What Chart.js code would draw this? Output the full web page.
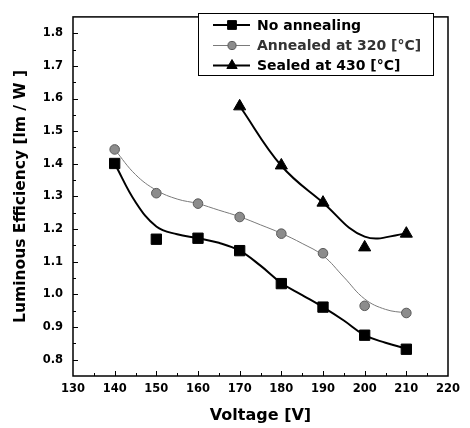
<!DOCTYPE html>
<html><head><meta charset="utf-8">
<script src="https://cdn.jsdelivr.net/npm/chart.js@4/dist/chart.umd.min.js"></script>
<style>html,body{margin:0;padding:0;background:#fff}#wrap{width:470px;height:428px}</style>
</head><body><div id="wrap"><canvas id="c" width="470" height="428"></canvas></div>
<script>
// Measured points
const voltages = [140, 150, 160, 170, 180, 190, 200, 210];
const noAnnealing = [1.401, 1.169, 1.172, 1.134, 1.033, 0.961, 0.875, 0.832];
const annealed320 = [1.444, 1.310, 1.278, 1.237, 1.186, 1.126, 0.965, 0.943];
const sealedVoltages = [170, 180, 190, 200, 210];
const sealed430 = [1.576, 1.395, 1.281, 1.144, 1.186];
// Fitted curves
const curveVoltages = [140, 145, 150, 155, 160, 165, 170, 175, 180, 185, 190, 195, 200, 205, 210];
const noAnnealingCurve = [1.401, 1.283, 1.208, 1.184, 1.172, 1.158, 1.134, 1.088, 1.035, 0.998, 0.961, 0.920, 0.875, 0.852, 0.834];
const annealedCurve = [1.444, 1.367, 1.319, 1.292, 1.278, 1.258, 1.238, 1.213, 1.187, 1.156, 1.119, 1.053, 0.986, 0.954, 0.943];
const sealedCurveVoltages = [170, 180, 190, 200, 210];
const sealedCurve = [1.577, 1.394, 1.281, 1.177, 1.186];
// Axes
const xTicks = [130, 140, 150, 160, 170, 180, 190, 200, 210, 220];
const yTicks = [0.8, 0.9, 1.0, 1.1, 1.2, 1.3, 1.4, 1.5, 1.6, 1.7, 1.8];
const seriesNames = ['No annealing', 'Annealed at 320 [\u00B0C]', 'Sealed at 430 [\u00B0C]'];

const pts = (xs, ys) => xs.map((x, i) => ({x: x, y: ys[i]}));
const FONT = "'DejaVu Sans', Verdana, sans-serif";

const styles = [
  {pointStyle: 'rect', radius: 7.3, bg: '#000', border: '#000', bw: 1, line: '#000', lw: 2},
  {pointStyle: 'circle', radius: 4.8, bg: '#8c8c8c', border: '#5a5a5a', bw: 1, line: '#7a7a7a', lw: 1},
  {pointStyle: 'triangle', radius: 7, bg: '#000', border: '#000', bw: 1, line: '#000', lw: 2}
];

function markerDs(data, s) {
  return {data: data, showLine: false, pointStyle: s.pointStyle, pointRadius: s.radius,
    pointBackgroundColor: s.bg, pointBorderColor: s.border, pointBorderWidth: s.bw};
}
function curveDs(data, s) {
  return {data: data, showLine: true, pointRadius: 0, borderColor: s.line, borderWidth: s.lw,
    fill: false, tension: 0.4};
}

const framePlugin = {
  id: 'frameTicks',
  afterDatasetsDraw(chart) {
    const {ctx, chartArea: a, scales} = chart;
    ctx.save();
    ctx.strokeStyle = '#000';
    ctx.lineWidth = 1.5;
    ctx.strokeRect(a.left, a.top, a.right - a.left, a.bottom - a.top);
    ctx.lineWidth = 1;
    ctx.beginPath();
    for (let v = 135; v <= 215; v += 5) {
      const x = Math.round(scales.x.getPixelForValue(v)) + 0.5;
      const len = (v % 10 === 0) ? 5 : 3;
      ctx.moveTo(x, a.bottom); ctx.lineTo(x, a.bottom - len);
    }
    for (let k = 0; k <= 20; k++) {
      const v = 0.8 + k * 0.05;
      const y = Math.round(scales.y.getPixelForValue(v)) + 0.5;
      const len = (k % 2 === 0) ? 5 : 3;
      ctx.moveTo(a.left, y); ctx.lineTo(a.left + len, y);
    }
    ctx.stroke();
    ctx.restore();
  },
  afterDraw(chart) {
    const {ctx} = chart;
    const box = {x: 198, y: 13, w: 235, h: 62};
    ctx.save();
    ctx.fillStyle = '#fff';
    ctx.fillRect(box.x, box.y, box.w, box.h);
    ctx.strokeStyle = '#000';
    ctx.lineWidth = 1;
    ctx.strokeRect(box.x + 0.5, box.y + 0.5, box.w, box.h);
    const rows = [25, 45.5, 65.5];
    ctx.font = 'bold 14px ' + FONT;
    ctx.textBaseline = 'middle';
    ctx.textAlign = 'left';
    for (let i = 0; i < 3; i++) {
      const s = styles[i];
      const y = rows[i];
      ctx.strokeStyle = s.line;
      ctx.lineWidth = s.lw;
      ctx.beginPath();
      ctx.moveTo(213, y); ctx.lineTo(250, y);
      ctx.stroke();
      ctx.fillStyle = s.bg;
      ctx.strokeStyle = s.border;
      ctx.lineWidth = s.bw;
      Chart.helpers.drawPoint(ctx, {pointStyle: s.pointStyle, radius: s.radius * 0.85, borderWidth: s.bw, rotation: 0}, 232, y);
      ctx.fillStyle = i === 1 ? '#333' : '#000';
      ctx.fillText(seriesNames[i], 257, y + 1);
    }
    ctx.restore();
  }
};

new Chart(document.getElementById('c'), {
  type: 'scatter',
  data: {
    datasets: [
      markerDs(pts(voltages, noAnnealing), styles[0]),
      markerDs(pts(voltages, annealed320), styles[1]),
      markerDs(pts(sealedVoltages, sealed430), styles[2]),
      curveDs(pts(curveVoltages, noAnnealingCurve), styles[0]),
      curveDs(pts(curveVoltages, annealedCurve), styles[1]),
      curveDs(pts(sealedCurveVoltages, sealedCurve), styles[2])
    ]
  },
  options: {
    responsive: false,
    devicePixelRatio: 1,
    animation: false,
    layout: {padding: {left: 0, top: 5, right: 22, bottom: 0}},
    plugins: {legend: {display: false}, tooltip: {enabled: false}},
    scales: {
      x: {
        type: 'linear', min: 130, max: 220,
        afterBuildTicks: s => { s.ticks = xTicks.map(v => ({value: v})); },
        afterFit: s => { s.height = 52; },
        grid: {display: false, drawTicks: false},
        border: {display: false},
        ticks: {color: '#000', padding: 6, font: {family: FONT, size: 11.5, weight: 'bold'}, maxRotation: 0, autoSkip: false},
        title: {display: true, text: 'Voltage [V]', color: '#000', font: {family: FONT, size: 16, weight: 'bold'}, padding: {top: 0, bottom: 3}}
      },
      y: {
        type: 'linear', min: 0.75, max: 1.85,
        afterBuildTicks: s => { s.ticks = yTicks.map(v => ({value: v})); },
        afterFit: s => { s.width = 73; },
        grid: {display: false, drawTicks: false},
        border: {display: false},
        ticks: {color: '#000', padding: 10, font: {family: FONT, size: 11.5, weight: 'bold'}, callback: v => v.toFixed(1), autoSkip: false},
        title: {display: true, text: 'Luminous Efficiency [lm / W ]', color: '#000', font: {family: FONT, size: 15.5, weight: 'bold'}, padding: {top: 12, bottom: 0}}
      }
    }
  },
  plugins: [framePlugin]
});
</script>
</body></html>
